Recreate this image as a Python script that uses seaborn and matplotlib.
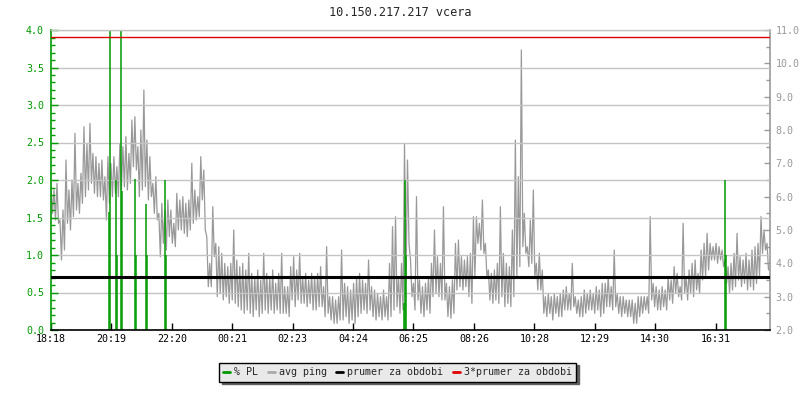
import numpy as np
import matplotlib
matplotlib.use("Agg")
import matplotlib.pyplot as plt
import seaborn as sns
from matplotlib.lines import Line2D
from matplotlib.ticker import MultipleLocator

title = "10.150.217.217 vcera"
time_labels = ["18:18", "20:19", "22:20", "00:21", "02:23", "04:24",
               "06:25", "08:26", "10:28", "12:29", "14:30", "16:31"]
tick_step_min = 121
sample_step_min = 6
span_min = 1440

# avg ping [ms], highest and lowest reading in each 6 minute slot from 18:18
ping_max = [
    6.3, 6.2, 6.4, 5.3, 5.6, 7.1, 6.2, 6.5, 7.9, 6.4,
    6.7, 8.1, 7.6, 8.2, 7.3, 7.2, 7.0, 7.1, 6.6, 7.2,
    7.0, 7.2, 6.9, 7.6, 7.5, 7.8, 7.3, 8.3, 8.4, 7.5,
    8.0, 9.2, 7.7, 7.2, 6.4, 6.6, 5.5, 5.8, 5.6, 5.9,
    5.6, 5.2, 6.1, 5.9, 6.0, 5.8, 5.9, 7.0, 6.2, 6.0,
    7.2, 6.8, 4.8, 4.0, 5.7, 4.6, 4.5, 4.3, 4.0, 3.9,
    4.0, 5.0, 4.1, 3.9, 4.0, 3.8, 4.3, 3.7, 3.6, 3.8,
    3.5, 4.3, 3.7, 3.6, 3.8, 3.4, 3.7, 4.3, 3.3, 3.3,
    3.9, 4.2, 3.8, 4.3, 3.6, 3.7, 3.5, 3.7, 3.6, 3.7,
    3.9, 3.3, 4.5, 3.0, 3.0, 2.9, 3.0, 4.4, 3.4, 3.3,
    3.2, 3.4, 3.6, 3.7, 3.5, 3.4, 4.1, 3.3, 3.2, 3.1,
    3.0, 3.2, 3.0, 4.0, 5.1, 5.4, 3.6, 4.0, 7.6, 7.1,
    4.1, 3.4, 6.0, 3.5, 3.3, 3.4, 3.6, 4.0, 5.0, 4.2,
    4.0, 5.7, 3.4, 3.3, 3.5, 4.6, 4.7, 4.2, 4.1, 4.2,
    4.3, 5.4, 5.4, 5.2, 5.9, 4.6, 3.8, 3.7, 3.8, 4.0,
    5.7, 4.3, 4.0, 3.9, 5.0, 7.7, 6.6, 10.4, 5.5, 4.5,
    5.3, 6.2, 4.0, 4.3, 3.8, 3.0, 3.1, 3.0, 3.1, 3.0,
    3.1, 3.2, 3.3, 3.1, 4.0, 3.0, 2.9, 3.0, 3.2, 3.1,
    3.2, 3.1, 3.3, 3.2, 3.4, 3.4, 3.6, 3.3, 4.4, 3.1,
    3.0, 3.0, 2.9, 2.9, 2.9, 2.8, 3.0, 3.0, 3.0, 3.0,
    5.4, 3.4, 3.3, 3.2, 3.3, 3.2, 3.6, 3.5, 3.9, 3.7,
    3.3, 5.2, 3.6, 3.8, 4.0, 4.1, 3.7, 4.4, 4.6, 4.9,
    4.6, 4.5, 4.6, 4.5, 4.4, 4.1, 3.9, 4.0, 4.3, 4.9,
    4.2, 4.1, 4.3, 4.1, 4.4, 4.5, 4.6, 5.4, 5.0, 4.6,
]
ping_min = [
    5.5, 5.3, 5.2, 4.1, 4.4, 5.2, 5.0, 5.4, 5.6, 5.5,
    5.8, 6.0, 6.2, 6.4, 6.1, 6.0, 6.0, 5.9, 5.3, 5.8,
    6.0, 6.1, 6.0, 6.2, 6.3, 6.2, 6.4, 6.9, 6.8, 6.0,
    6.2, 6.3, 5.9, 6.0, 5.5, 5.3, 4.2, 4.6, 4.4, 4.8,
    4.6, 4.5, 5.0, 5.0, 4.9, 4.8, 5.0, 5.2, 5.3, 5.4,
    5.9, 5.0, 3.3, 3.3, 4.2, 3.0, 3.1, 2.9, 3.0, 2.8,
    2.9, 2.8, 2.7, 2.6, 2.5, 2.6, 2.5, 2.4, 2.6, 2.4,
    2.5, 2.6, 2.5, 2.6, 2.5, 2.6, 2.5, 2.5, 2.5, 2.4,
    2.9, 2.7, 2.9, 2.8, 2.8, 2.7, 2.8, 2.6, 2.6, 2.7,
    2.7, 2.4, 2.5, 2.3, 2.2, 2.2, 2.3, 2.3, 2.4, 2.2,
    2.3, 2.2, 2.4, 2.5, 2.6, 2.5, 2.6, 2.4, 2.3, 2.4,
    2.3, 2.4, 2.3, 2.4, 2.6, 2.7, 2.5, 2.6, 3.5, 4.6,
    3.0, 2.6, 2.9, 2.5, 2.4, 2.6, 2.5, 3.0, 3.1, 3.0,
    2.9, 2.9, 2.4, 2.35, 2.5, 3.2, 3.3, 3.2, 3.3, 3.0,
    2.8, 3.6, 4.6, 4.4, 4.3, 3.6, 2.9, 2.8, 2.9, 2.8,
    3.0, 2.7, 2.8, 2.7, 3.0, 3.6, 3.9, 4.5, 4.3, 3.9,
    4.0, 3.6, 3.2, 3.2, 2.5, 2.4, 2.5, 2.3, 2.5, 2.4,
    2.4, 2.6, 2.6, 2.6, 2.7, 2.5, 2.4, 2.4, 2.5, 2.6,
    2.6, 2.5, 2.6, 2.4, 2.5, 2.7, 2.7, 2.6, 2.7, 2.5,
    2.4, 2.5, 2.4, 2.4, 2.2, 2.2, 2.4, 2.5, 2.6, 2.5,
    2.9, 2.7, 2.6, 2.6, 2.7, 2.6, 2.9, 2.8, 3.1, 3.0,
    2.9, 3.1, 2.9, 3.1, 3.0, 3.2, 3.1, 3.5, 3.6, 3.8,
    4.1, 4.1, 4.0, 4.1, 3.9, 3.4, 3.1, 3.2, 3.3, 3.5,
    3.3, 3.4, 3.2, 3.3, 3.2, 3.4, 3.6, 4.3, 4.4, 3.8,
]

# packet loss events [minutes after 18:18, %]
pl_minute = [116, 118, 130, 132, 140, 142, 168, 170, 190, 192,
             228, 230, 706, 708, 710, 1350, 1352]
pl_percent = [1.57, 5.0, 2.0, 1.0, 5.0, 1.85, 2.02, 1.0, 1.68, 1.0,
              2.0, 1.0, 0.36, 2.0, 1.0, 2.0, 1.0]

avg_ping = 3.6
avg_ping_x3 = 3 * avg_ping

GREEN = "#009a00"
GREY = "#999999"
GRID = "#c4c4c4"

sns.set_style("white")
plt.rcParams["font.family"] = ["DejaVu Sans Mono"]
plt.rcParams["font.size"] = 7.2

# the trace runs through the high and the low reading of each slot in turn
slot = np.arange(len(ping_max)) * sample_step_min
t = np.column_stack((slot, slot + sample_step_min / 2)).ravel()
ping = np.column_stack((ping_max, ping_min)).ravel()

fig = plt.figure(figsize=(8, 4), dpi=100)
ax = fig.add_axes([0.06375, 0.175, 0.89875, 0.75])
ax2 = ax.twinx()
ax3 = ax.twinx()

# layers: ping at bottom, PL + grid in middle, average lines on top
ax2.set_zorder(1)
ax.set_zorder(2)
ax3.set_zorder(3)
ax.patch.set_visible(False)
ax3.patch.set_visible(False)
ax2.patch.set_facecolor("white")

sns.lineplot(x=t, y=ping, ax=ax2, color=GREY, lw=0.9, sort=False)
ax.vlines(pl_minute, 0, pl_percent, color=GREEN, lw=1.1)
ax3.axhline(avg_ping, color="black", lw=2.2)
ax3.axhline(avg_ping_x3, color="#e00000", lw=1)

ax.set_xlim(0, span_min)
ax.set_ylim(0, 4)
ax2.set_ylim(2, 11)
ax3.set_ylim(2, 11)

ax.set_xticks(np.arange(len(time_labels)) * tick_step_min)
ax.set_xticklabels(time_labels)
ax.yaxis.set_major_locator(MultipleLocator(0.5))
ax.yaxis.set_minor_locator(MultipleLocator(0.1))
ax.yaxis.set_major_formatter(plt.FormatStrFormatter("%.1f"))
ax.grid(axis="y", which="major", color=GRID, lw=1)
ax.tick_params(axis="y", which="major", direction="in", length=5, width=1,
               color=GREEN, labelcolor=GREEN, pad=5)
ax.tick_params(axis="y", which="minor", direction="in", length=3, width=1,
               color=GREEN, left=True)
ax.tick_params(axis="x", direction="in", length=5, width=1, color="black",
               labelcolor="black", pad=3, bottom=True)

ax2.yaxis.set_major_locator(MultipleLocator(1))
ax2.yaxis.set_minor_locator(MultipleLocator(0.5))
ax2.yaxis.set_major_formatter(plt.FormatStrFormatter("%.1f"))
ax2.tick_params(axis="y", which="major", direction="in", length=4, width=1,
                color=GREY, labelcolor=GREY, pad=4)
ax2.tick_params(axis="y", which="minor", direction="in", length=3, width=1,
                color=GREY, right=True)
ax2.set_ylabel("")
ax3.set_yticks([])
ax3.set_ylabel("")

for a in (ax, ax2, ax3):
    for s in a.spines.values():
        s.set_visible(False)
ax.spines["left"].set_visible(True)
ax.spines["left"].set_color(GREEN)
ax.spines["left"].set_linewidth(1.2)
ax.spines["bottom"].set_visible(True)
ax.spines["bottom"].set_color("black")
ax.spines["bottom"].set_linewidth(1.2)
ax2.spines["right"].set_visible(True)
ax2.spines["right"].set_color(GREY)
ax2.spines["right"].set_linewidth(1.2)
ax.spines["top"].set_visible(True)
ax.spines["top"].set_color(GRID)
ax.spines["top"].set_linewidth(1)

fig.text(0.5, 1 - 13 / 400, title, ha="center", va="center", fontsize=8.6)

handles = [
    Line2D([], [], color=GREEN, lw=2),
    Line2D([], [], color="#aaaaaa", lw=2),
    Line2D([], [], color="black", lw=2),
    Line2D([], [], color="#e00000", lw=2),
]
labels = ["% PL", "avg ping", "prumer za obdobi", "3*prumer za obdobi"]
leg = fig.legend(handles, labels, loc="center", bbox_to_anchor=(0.497, 0.07),
                 ncol=4, handlelength=0.7, handletextpad=0.4,
                 columnspacing=0.95, borderpad=0.45, fancybox=False,
                 shadow={"color": "#606060", "alpha": 1},
                 framealpha=1, fontsize=7.2)
leg.get_frame().set_facecolor("#e9e9e9")
leg.get_frame().set_edgecolor("black")
leg.get_frame().set_linewidth(1)

plt.savefig("out.png", dpi=100)
plt.close()
